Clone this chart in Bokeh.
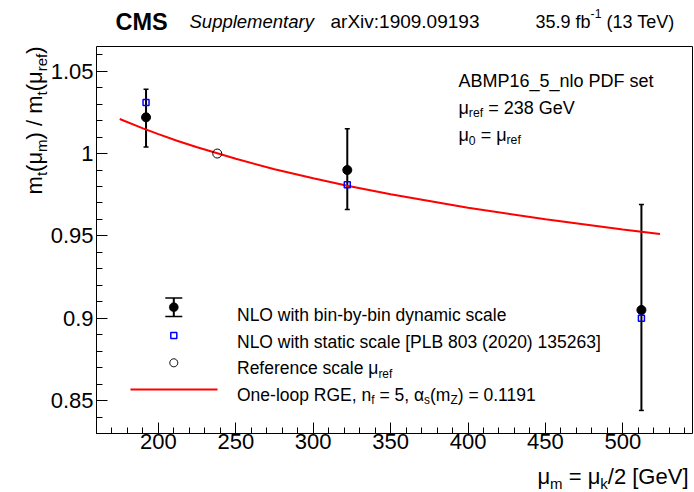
import math
from bokeh.plotting import figure
from bokeh.models import (Range1d, FixedTicker, Label, Whisker, TeeHead, LinearAxis,
                          ColumnDataSource, PolyAnnotation)
from bokeh.embed import file_html
from bokeh.resources import INLINE

# ---------------- data ----------------
scale_gev = [192, 322, 512]                 # mu_m of the three bins
ratio_dynamic = [1.022, 0.990, 0.905]       # NLO with bin-by-bin dynamic scale
err_up = [0.017, 0.025, 0.064]
err_down = [0.018, 0.024, 0.061]
ratio_static = [1.031, 0.981, 0.900]        # NLO with static scale
ref_scale = [238]
ref_ratio = [1.0]
rge_mu = [175, 190, 200, 212, 225, 250, 275, 300, 322, 350, 400, 450, 500, 524]
rge_ratio = [1.021, 1.0153, 1.0118, 1.0078, 1.0038, 0.9968, 0.9905, 0.9850,
             0.9805, 0.9753, 0.9671, 0.9601, 0.9539, 0.9512]
x_ticks = [200, 250, 300, 350, 400, 450, 500]
y_ticks = [0.85, 0.9, 0.95, 1.0, 1.05]
y_tick_labels = ["0.85", "0.9", "0.95", "1", "1.05"]
X_LO, X_HI = 160, 545
Y_LO, Y_HI = 0.83, 1.065

FONT = "Liberation Sans"

# ---------------- layout (page pixels) ----------------
W, H = 694, 492
FL, FR, FT, FB = 96, 692, 46, 433   # plot box edges on the page
kx = (FR - FL) / (X_HI - X_LO)
ky = (FB - FT) / (Y_HI - Y_LO)

p = figure(width=W, height=H, output_backend="svg", toolbar_location=None,
           x_range=Range1d(X_LO - FL / kx, X_HI + (W - FR) / kx),
           y_range=Range1d(Y_LO - (H - FB) / ky, Y_HI + FT / ky),
           min_border_left=0, min_border_right=0, min_border_top=0, min_border_bottom=0)
p.background_fill_color = "white"
p.border_fill_color = "white"
p.outline_line_color = None
p.xgrid.visible = False
p.ygrid.visible = False

xa = p.xaxis[0]
ya = p.yaxis[0]
xa.fixed_location = Y_LO
ya.fixed_location = X_LO
xa.bounds = (X_LO, X_HI)
ya.bounds = (Y_LO, Y_HI)
xa.ticker = FixedTicker(ticks=x_ticks, minor_ticks=list(range(X_LO, X_HI, 10)))
ya.ticker = FixedTicker(ticks=y_ticks,
                        minor_ticks=[round(Y_LO + 0.01 * i, 2) for i in range(24)])
ya.major_label_overrides = {t: l for t, l in zip(y_ticks, y_tick_labels)}
for ax in (xa, ya):
    ax.axis_line_color = "black"
    ax.axis_line_width = 1
    ax.major_tick_in = 11
    ax.major_tick_out = 0
    ax.minor_tick_in = 6
    ax.minor_tick_out = 0
    ax.major_tick_line_color = "black"
    ax.minor_tick_line_color = "black"
    ax.major_label_text_font = FONT
    ax.major_label_text_font_size = "22px"
    ax.major_label_text_color = "black"
xa.major_label_standoff = 0
ya.major_label_standoff = 3

# top and right edges of the box
top_ax = LinearAxis(fixed_location=Y_HI, bounds=(X_LO, X_HI),
                    ticker=FixedTicker(ticks=[], minor_ticks=[]),
                    axis_line_color="black", major_tick_line_color=None,
                    minor_tick_line_color=None)
right_ax = LinearAxis(fixed_location=X_HI, bounds=(Y_LO, Y_HI),
                      ticker=FixedTicker(ticks=[], minor_ticks=[]),
                      axis_line_color="black", major_tick_line_color=None,
                      minor_tick_line_color=None)
p.add_layout(top_ax, "above")
p.add_layout(right_ax, "right")

# ---------------- data marks ----------------
p.line(rge_mu, rge_ratio, line_color="#ff0000", line_width=2)

src = ColumnDataSource(dict(x=scale_gev, y=ratio_dynamic,
                            up=[v + e for v, e in zip(ratio_dynamic, err_up)],
                            lo=[v - e for v, e in zip(ratio_dynamic, err_down)]))
p.add_layout(Whisker(source=src, base="x", upper="up", lower="lo",
                     line_color="black", line_width=2,
                     upper_head=TeeHead(size=5, line_width=1.5, line_color="black"),
                     lower_head=TeeHead(size=5, line_width=1.5, line_color="black")))
p.scatter("x", "y", source=src, size=9, marker="circle",
          fill_color="black", line_color="black")
p.scatter(scale_gev, ratio_static, marker="square", size=6, fill_color=None,
          line_color="#0000ff", line_width=1.5)
p.scatter(ref_scale, ref_ratio, marker="circle", size=9, fill_color=None,
          line_color="black", line_width=1)

# ---------------- helpers for texts / decorations ----------------
def fx(X):
    return X

def fy(Y):
    return H - Y

CW = {' ': .278, '.': .278, ',': .278, ':': .278, '/': .278, '(': .333, ')': .333,
      '[': .278, ']': .278, '=': .584, '_': .556, '-': .333,
      'a': .556, 'b': .556, 'c': .5, 'd': .556, 'e': .556, 'f': .278, 'g': .556,
      'h': .556, 'i': .222, 'j': .222, 'k': .5, 'l': .222, 'm': .833, 'n': .556,
      'o': .556, 'p': .556, 'q': .556, 'r': .333, 's': .5, 't': .278, 'u': .556,
      'v': .5, 'w': .722, 'x': .5, 'y': .5, 'z': .5,
      'A': .667, 'B': .667, 'C': .722, 'D': .722, 'E': .667, 'F': .611, 'G': .778,
      'H': .722, 'I': .278, 'L': .556, 'M': .833, 'N': .722, 'O': .778, 'P': .667,
      'R': .722, 'S': .667, 'T': .611, 'V': .667, 'X': .667, 'Z': .611,
      'μ': .576, 'α': .58}

def tw(s, size, bold=False):
    k = 1.07 if bold else 1.0
    return sum(CW.get(c, .556) for c in s) * size * k

def rich(X, Y, parts, size, align="left", rotate=False, style="normal"):
    runs = []
    for t, kind in parts:
        if kind == "n":
            s, off = size, 0.0
        elif kind == "sub":
            s, off = size * 0.68, -0.32 * size
        else:
            s, off = size * 0.68, 0.42 * size
        runs.append((t, s, off))
    bold = style == "bold"
    total = sum(tw(t, s, bold) for t, s, _ in runs)
    adv = 0.0 if align == "left" else (-total if align == "right" else -total / 2)
    for t, s, off in runs:
        core = t.strip(" ")
        lead = len(t) - len(t.lstrip(" "))
        a = adv + tw(" " * lead, s, bold)
        if rotate:
            x, y, ang = fx(X) - off, fy(Y) + a, math.pi / 2
        else:
            x, y, ang = fx(X) + a, fy(Y) + off, 0
        if core:
            p.add_layout(Label(x=x, y=y, x_units="screen", y_units="screen", text=core,
                               angle=ang, text_font=FONT, text_font_size=f"{s:.1f}px",
                               text_font_style=style, text_color="black",
                               text_baseline="alphabetic", text_align="left"))
        adv += tw(t, s, bold)

def poly(pts, fill=None, line="black", lw=1.0):
    p.add_layout(PolyAnnotation(xs=[fx(a) for a, b in pts], ys=[fy(b) for a, b in pts],
                                xs_units="screen", ys_units="screen",
                                fill_color=fill, fill_alpha=1.0 if fill else 0.0,
                                line_color=line, line_width=lw,
                                line_alpha=1.0 if line else 0.0))

def rect(x0, x1, y0, y1, color):
    poly([(x0, y0), (x1, y0), (x1, y1), (x0, y1)], fill=color, line=None)

def circle_pts(cx, cy, r, n=24):
    return [(cx + r * math.cos(2 * math.pi * i / n), cy + r * math.sin(2 * math.pi * i / n))
            for i in range(n)]

# ---------------- header ----------------
rich(115, 21, [("CMS", "n")], 23.5, style="bold")
rich(189, 21, [("Supplementary", "n")], 18.5, style="italic")
rich(330, 21, [("arXiv:1909.09193", "n")], 19)
rich(676, 21, [("35.9 fb", "n"), ("-1", "sup"), (" (13 TeV)", "n")], 18, align="right")

# ---------------- axis titles ----------------
rich(688, 476, [("μ", "n"), ("m", "sub"), (" = μ", "n"), ("k", "sub"), ("/2 [GeV]", "n")],
     22, align="right")
rich(34, 46, [("m", "n"), ("t", "sub"), ("(μ", "n"), ("m", "sub"), (") / m", "n"),
              ("t", "sub"), ("(μ", "n"), ("ref", "sub"), (")", "n")],
     22, align="right", rotate=True)

# ---------------- info text ----------------
TS = 17.5
rich(458, 80, [("ABMP16_5_nlo PDF set", "n")], 18)
rich(458, 107, [("μ", "n"), ("ref", "sub"), (" = 238 GeV", "n")], 18)
rich(458, 134, [("μ", "n"), ("0", "sub"), (" = μ", "n"), ("ref", "sub")], 18)

# ---------------- legend ----------------
KX = 173.3
TX = 236.5
rows = [314, 341, 367.5, 394]
# error-bar key
rect(KX - 1, KX + 1, 297.5, 316, "black")
rect(KX - 8.5, KX + 8.5, 296.8, 298.2, "black")
rect(KX - 8.5, KX + 8.5, 315.3, 316.7, "black")
poly(circle_pts(KX, 306.7, 4.5), fill="black", line="black", lw=0.5)
rich(TX, rows[0], [("NLO with bin-by-bin dynamic scale", "n")], TS)
# static-scale key
poly([(KX - 3, 332), (KX + 3, 332), (KX + 3, 338), (KX - 3, 338)],
     fill=None, line="#0000ff", lw=1.5)
rich(TX, rows[1], [("NLO with static scale [PLB 803 (2020) 135263]", "n")], TS)
# reference key
poly(circle_pts(KX, 362.3, 4), fill=None, line="black", lw=1)
rich(TX, rows[2], [("Reference scale μ", "n"), ("ref", "sub")], TS)
# RGE key
rect(130, 217, 388, 390, "#ff0000")
rich(TX, rows[3], [("One-loop RGE, n", "n"), ("f", "sub"), (" = 5, α", "n"), ("s", "sub"),
                   ("(m", "n"), ("Z", "sub"), (") = 0.1191", "n")], TS)

open("out.html", "w").write(file_html(p, INLINE))
